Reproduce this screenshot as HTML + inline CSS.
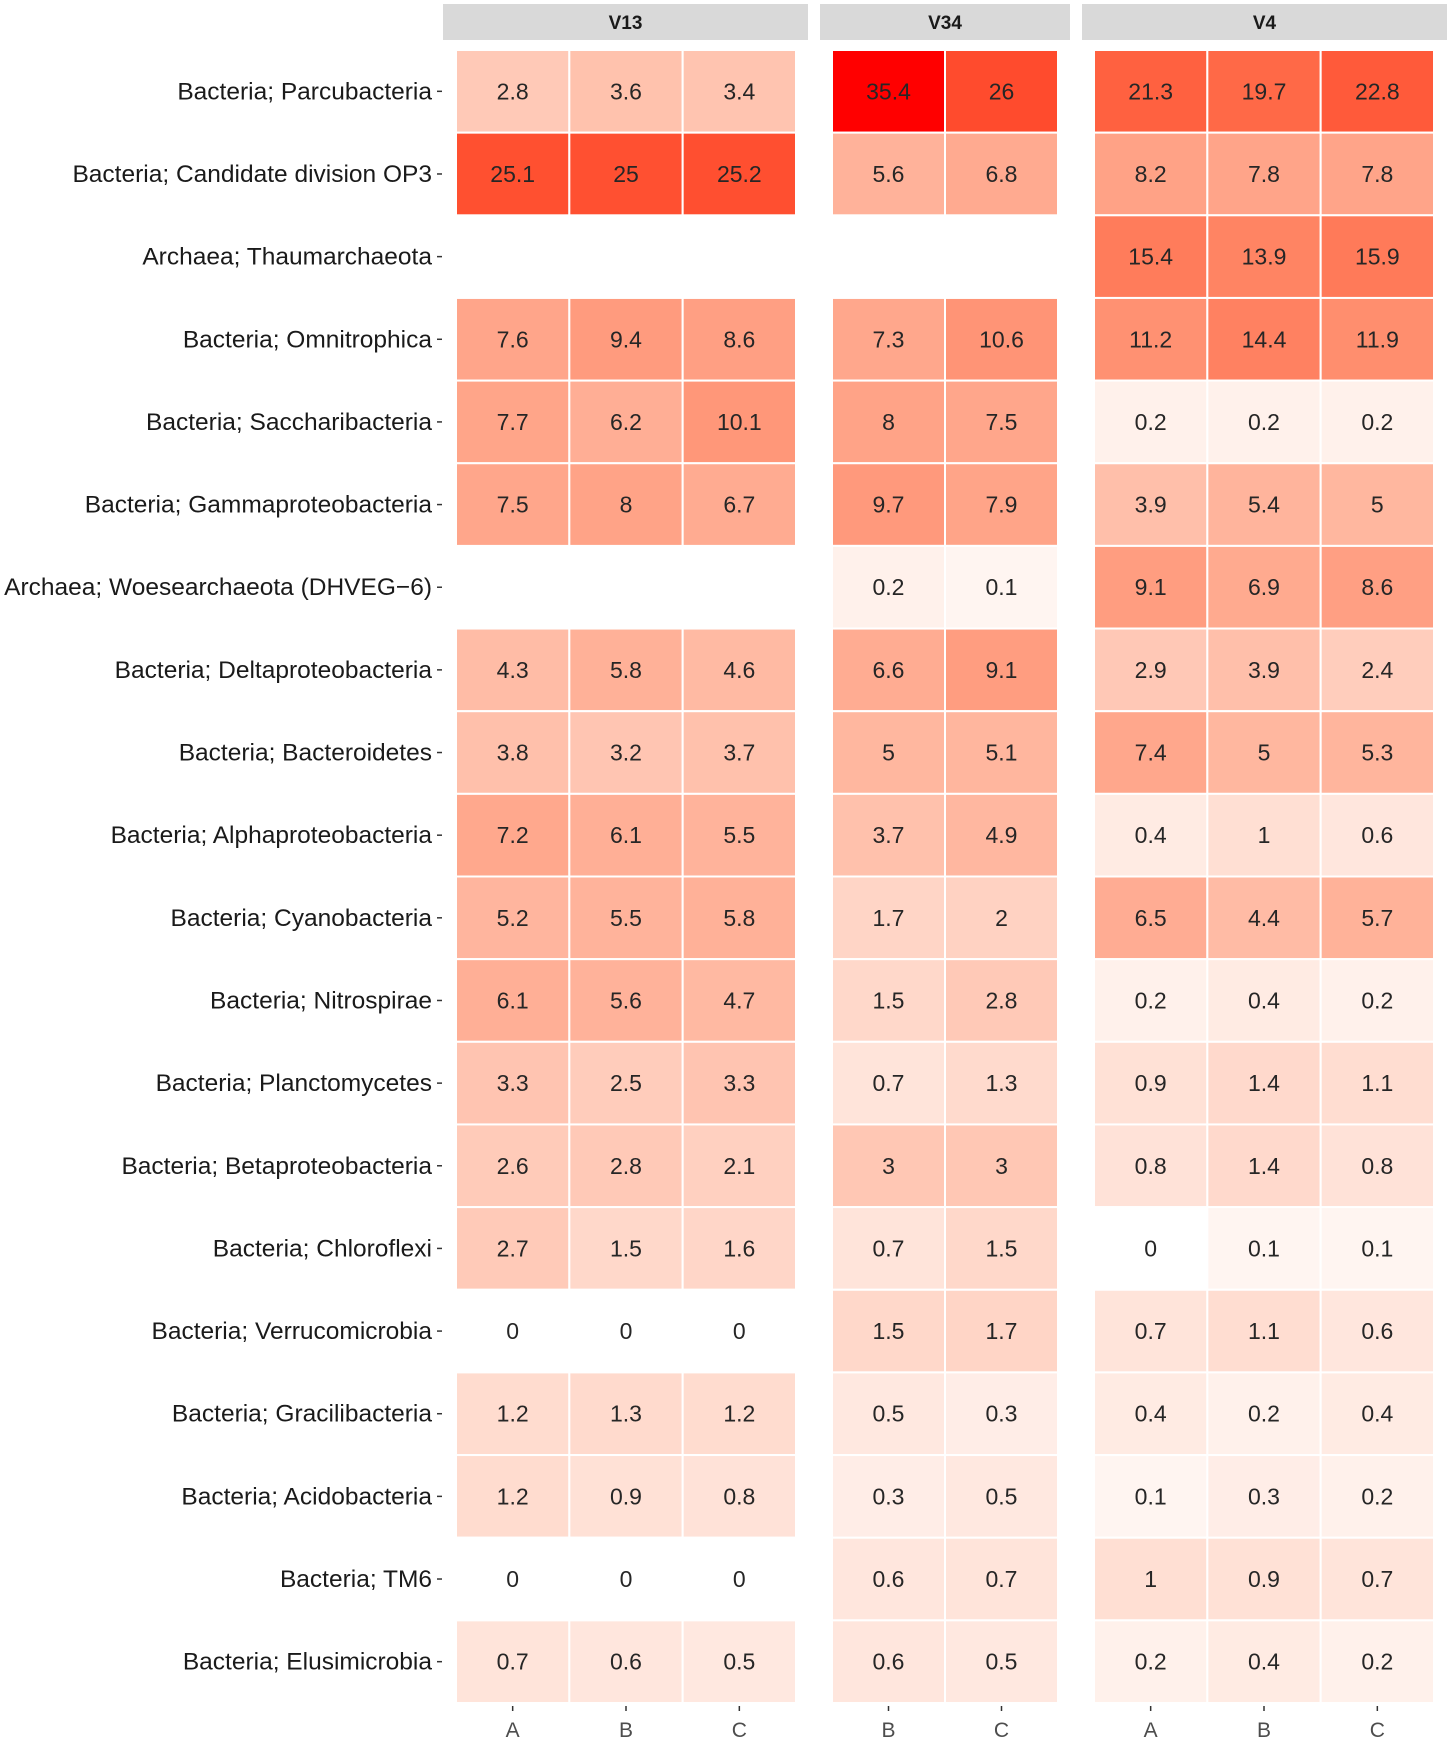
<!DOCTYPE html>
<html><head><meta charset="utf-8"><style>
html,body{margin:0;padding:0;background:#fff;}
svg{display:block;font-family:"Liberation Sans",Arial,sans-serif;}
</style></head><body>
<svg id="chart" width="1450" height="1741" viewBox="0 0 1450 1741" xmlns="http://www.w3.org/2000/svg"></svg>
<script>
const rowLabels = ["Bacteria; Parcubacteria","Bacteria; Candidate division OP3","Archaea; Thaumarchaeota","Bacteria; Omnitrophica","Bacteria; Saccharibacteria","Bacteria; Gammaproteobacteria","Archaea; Woesearchaeota (DHVEG\u22126)","Bacteria; Deltaproteobacteria","Bacteria; Bacteroidetes","Bacteria; Alphaproteobacteria","Bacteria; Cyanobacteria","Bacteria; Nitrospirae","Bacteria; Planctomycetes","Bacteria; Betaproteobacteria","Bacteria; Chloroflexi","Bacteria; Verrucomicrobia","Bacteria; Gracilibacteria","Bacteria; Acidobacteria","Bacteria; TM6","Bacteria; Elusimicrobia"];
const panelNames = ["V13","V34","V4"];
const panelCols = [["A","B","C"],["B","C"],["A","B","C"]];
const v13Values = [[2.8,3.6,3.4],[25.1,25,25.2],null,[7.6,9.4,8.6],[7.7,6.2,10.1],[7.5,8,6.7],null,[4.3,5.8,4.6],[3.8,3.2,3.7],[7.2,6.1,5.5],[5.2,5.5,5.8],[6.1,5.6,4.7],[3.3,2.5,3.3],[2.6,2.8,2.1],[2.7,1.5,1.6],[0,0,0],[1.2,1.3,1.2],[1.2,0.9,0.8],[0,0,0],[0.7,0.6,0.5]];
const v34Values = [[35.4,26],[5.6,6.8],null,[7.3,10.6],[8,7.5],[9.7,7.9],[0.2,0.1],[6.6,9.1],[5,5.1],[3.7,4.9],[1.7,2],[1.5,2.8],[0.7,1.3],[3,3],[0.7,1.5],[1.5,1.7],[0.5,0.3],[0.3,0.5],[0.6,0.7],[0.6,0.5]];
const v4Values = [[21.3,19.7,22.8],[8.2,7.8,7.8],[15.4,13.9,15.9],[11.2,14.4,11.9],[0.2,0.2,0.2],[3.9,5.4,5],[9.1,6.9,8.6],[2.9,3.9,2.4],[7.4,5,5.3],[0.4,1,0.6],[6.5,4.4,5.7],[0.2,0.4,0.2],[0.9,1.4,1.1],[0.8,1.4,0.8],[0,0.1,0.1],[0.7,1.1,0.6],[0.4,0.2,0.4],[0.1,0.3,0.2],[1,0.9,0.7],[0.2,0.4,0.2]];
const panelValues = [v13Values, v34Values, v4Values];

const NS = "http://www.w3.org/2000/svg";
const svg = document.getElementById("chart");
function mk(tag, attrs, parent){const e=document.createElementNS(NS,tag);for(const k in attrs)e.setAttribute(k,attrs[k]);(parent||svg).appendChild(e);return e;}

const panelX = [[456,796],[832,1058],[1094,1434]];
const stripX = [[443,808],[820,1070],[1082,1447]];
const top0 = 50, rowH = 82.65;
const allVals = panelValues.flatMap(p=>p.flatMap(r=>r||[]));
const vmin = Math.min(...allVals), vmax = Math.max(...allVals);
function yScale(i){return top0 + i*rowH;}
function xScale(p,j){const w=(panelX[p][1]-panelX[p][0])/panelCols[p].length;return panelX[p][0]+j*w;}
function colW(p){return (panelX[p][1]-panelX[p][0])/panelCols[p].length;}

function lab2rgb(L,a,b){let y=(L+16)/116,x=a/500+y,z=y-b/200;
 const f=t=>t*t*t>0.008856?t*t*t:(t-16/116)/7.787;
 x=0.95047*f(x);y=1.0*f(y);z=1.08883*f(z);
 let r=x*3.2406+y*-1.5372+z*-0.4986,g=x*-0.9689+y*1.8758+z*0.0415,bb=x*0.0557+y*-0.2040+z*1.0570;
 const gm=c=>{c=c>0.0031308?1.055*Math.pow(c,1/2.4)-0.055:12.92*c;return Math.round(Math.max(0,Math.min(1,c))*255);};
 return `rgb(${gm(r)},${gm(g)},${gm(bb)})`;}
function color(v){const t=Math.sqrt((v-vmin)/(vmax-vmin));return lab2rgb(100+(53.24-100)*t,80.09*t,67.20*t);}

panelNames.forEach((name,p)=>{
  const s=mk("rect",{x:stripX[p][0],y:4,width:stripX[p][1]-stripX[p][0],height:36,fill:"#d9d9d9"});
  
  
  const t=mk("text",{x:(stripX[p][0]+stripX[p][1])/2,y:29,"text-anchor":"middle","font-size":"19","font-weight":"bold",fill:"#1a1a1a"});
  t.textContent=name;
  
  
  panelValues[p].forEach((row,i)=>{
    if(!row) return;
    row.forEach((v,j)=>{
      const r=mk("rect",{x:xScale(p,j),y:yScale(i),width:colW(p),height:rowH,fill:color(v),stroke:"#fff","stroke-width":2});
      
      
      const tx=mk("text",{x:xScale(p,j)+colW(p)/2,y:yScale(i)+rowH/2+8,"text-anchor":"middle","font-size":"23",fill:"#262626"});
      tx.textContent=String(v);
      
      
    });
  });
  panelCols[p].forEach((c,j)=>{
    const cx=xScale(p,j)+colW(p)/2;
    const tk=mk("line",{x1:cx,x2:cx,y1:1706,y2:1711,stroke:"#333","stroke-width":1.5});
    
    
    const lb=mk("text",{x:cx,y:1737,"text-anchor":"middle","font-size":"21",fill:"#4d4d4d"});
    lb.textContent=c;
    
    
  });
});
rowLabels.forEach((lab,i)=>{
  const cy=yScale(i)+rowH/2;
  const t=mk("text",{x:432,y:cy+8,"text-anchor":"end","font-size":"24.5",fill:"#1a1a1a"});
  t.textContent=lab;
  
  
  const tk=mk("line",{x1:437,x2:442,y1:cy,y2:cy,stroke:"#333","stroke-width":1.5});
  
  
});
</script>
</body></html>
